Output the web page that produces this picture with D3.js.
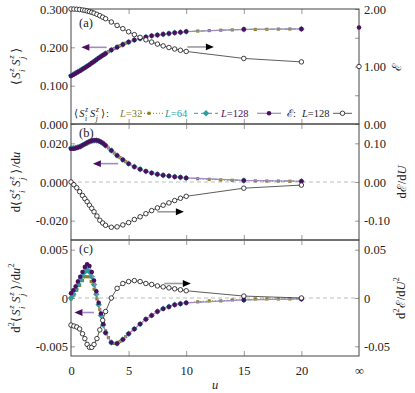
<!DOCTYPE html>
<html>
<head>
<meta charset="utf-8">
<script src="https://cdn.jsdelivr.net/npm/d3@7"></script>
<style>
  body { margin: 0; background: #fff; }
  svg { display: block; }
  svg text { font-family: "Liberation Serif", "Times New Roman", Tinos, "DejaVu Serif", serif; }
</style>
</head>
<body>
<svg id="chart" width="415" height="393"></svg>
<script>
// ---- data ----
const uL128 = [0,0.2,0.4,0.6,0.8,1.0,1.2,1.4,1.6,1.8,2.0,2.2,2.4,2.6,2.8,3.0,3.5,4,4.5,5,5.5,6,6.5,7,7.5,8,8.5,9,9.5,10,15,20];
const uL64 = uL128;
const uL32 = [0,0.25,0.5,0.75,1,1.25,1.5,1.75,2,2.25,2.5,2.75,3,3.25,3.5,3.75,4,4.25,4.5,4.75,5,5.5,6,6.5,7,7.5,8,8.5,9,9.5,10,11,12,13,14,15,16,17,18,19,20];
const uE = [0,0.25,0.5,0.75,1,1.2,1.4,1.6,1.8,2,2.25,2.5,2.75,3,3.5,4,4.5,5,5.5,6,6.5,7,7.5,8,8.5,9,9.5,10,15,20];
const U_INF = 25; // position of the "∞" tick

// <S^z_i S^z_j>
const corr128 = [0.1250,0.1284,0.1319,0.1354,0.1390,0.1428,0.1466,0.1506,0.1548,0.1590,0.1633,0.1676,0.1719,0.1761,0.1802,0.1841,0.1929,0.2005,0.2075,0.2140,0.2190,0.2230,0.2270,0.2300,0.2320,0.2340,0.2360,0.2380,0.2395,0.2410,0.2470,0.2480];
const corr64 = [0.1262,0.1295,0.1329,0.1363,0.1398,0.1434,0.1470,0.1509,0.1550,0.1591,0.1634,0.1677,0.1719,0.1761,0.1802,0.1841,0.1929,0.2005,0.2075,0.2140,0.2190,0.2230,0.2270,0.2300,0.2320,0.2340,0.2360,0.2380,0.2395,0.2410,0.2468,0.2478];
const corr32 = [0.1250,0.1293,0.1336,0.1381,0.1428,0.1476,0.1527,0.1580,0.1633,0.1687,0.1740,0.1791,0.1841,0.1886,0.1929,0.1968,0.2005,0.2040,0.2075,0.2108,0.2140,0.2190,0.2230,0.2270,0.2300,0.2320,0.2340,0.2360,0.2380,0.2395,0.2410,0.2425,0.2437,0.2447,0.2455,0.2462,0.2467,0.2471,0.2475,0.2478,0.2480];
const corrInf = 0.252;

// d<S^z_i S^z_j>/du
const d1_128 = [0.0172,0.0172,0.0174,0.0178,0.0183,0.0190,0.0197,0.0204,0.0210,0.0214,0.0216,0.0216,0.0213,0.0207,0.0199,0.0189,0.0163,0.0137,0.0115,0.0095,0.0079,0.0066,0.0055,0.0047,0.0040,0.0035,0.0031,0.0027,0.0024,0.0021,0.0008,0.0004];
const d1_64 = [0.0176,0.0176,0.0177,0.0180,0.0184,0.0190,0.0196,0.0202,0.0208,0.0212,0.0214,0.0215,0.0212,0.0207,0.0199,0.0189,0.0163,0.0137,0.0115,0.0095,0.0079,0.0066,0.0055,0.0047,0.0040,0.0035,0.0031,0.0027,0.0024,0.0021,0.0008,0.0004];
const d1_32 = [0.0172,0.0172,0.0176,0.0181,0.0189,0.0198,0.0206,0.0212,0.0215,0.0215,0.0210,0.0201,0.0189,0.0176,0.0163,0.0150,0.0137,0.0126,0.0115,0.0105,0.0095,0.0079,0.0066,0.0055,0.0047,0.0040,0.0035,0.0031,0.0027,0.0024,0.0021,0.0017,0.0014,0.0011,0.0009,0.0008,0.0006,0.0005,0.0005,0.0004,0.0004];

// d2<S^z_i S^z_j>/du2
const d2_128 = [0.0005,0.0008,0.0012,0.0017,0.0022,0.0027,0.0032,0.0035,0.0033,0.0027,0.0018,0.0007,-0.0005,-0.0016,-0.0027,-0.0036,-0.0046,-0.0047,-0.0043,-0.0037,-0.0032,-0.0027,-0.0022,-0.0018,-0.0014,-0.0011,-0.0009,-0.0007,-0.0006,-0.0005,-0.0002,-0.0001];
const d2_64 = [0.0000,0.0004,0.0009,0.0014,0.0019,0.0023,0.0027,0.0029,0.0027,0.0022,0.0014,0.0004,-0.0007,-0.0018,-0.0028,-0.0036,-0.0046,-0.0047,-0.0043,-0.0037,-0.0032,-0.0027,-0.0022,-0.0018,-0.0014,-0.0011,-0.0009,-0.0007,-0.0006,-0.0005,-0.0002,-0.0001];
const d2_32 = [-0.0001,0.0003,0.0008,0.0013,0.0018,0.0022,0.0022,0.0017,0.0009,-0.0001,-0.0012,-0.0024,-0.0034,-0.0041,-0.0046,-0.0047,-0.0047,-0.0045,-0.0043,-0.0040,-0.0037,-0.0032,-0.0027,-0.0022,-0.0018,-0.0014,-0.0011,-0.0009,-0.0007,-0.0006,-0.0005,-0.0004,-0.0003,-0.0003,-0.0002,-0.0002,-0.0001,-0.0001,-0.0001,-0.0001,-0.0001];

// energy E (L=128) and its derivatives
const energy = [2.000,1.999,1.996,1.991,1.983,1.976,1.966,1.955,1.942,1.928,1.907,1.884,1.858,1.831,1.774,1.715,1.658,1.604,1.554,1.507,1.464,1.425,1.390,1.358,1.330,1.304,1.282,1.262,1.140,1.080];
const energyInf = 1.00;
const dEnergy = [0,-0.007,-0.015,-0.025,-0.035,-0.043,-0.051,-0.060,-0.068,-0.077,-0.088,-0.099,-0.106,-0.112,-0.117,-0.116,-0.111,-0.105,-0.097,-0.090,-0.082,-0.074,-0.067,-0.060,-0.054,-0.048,-0.042,-0.037,-0.016,-0.008];
const d2Energy = [-0.028,-0.029,-0.030,-0.032,-0.037,-0.042,-0.048,-0.051,-0.051,-0.048,-0.042,-0.033,-0.023,-0.014,0.000,0.010,0.015,0.017,0.018,0.017,0.015,0.014,0.0125,0.0115,0.0105,0.0095,0.0085,0.0075,0.002,0.000];

const xTicks = [0, 5, 10, 15, 20, U_INF];

// ---- styles ----
const C32 = "#8c7e22", C64 = "#2a9fa3", C128 = "#4a0f5f", C128line = "#a48bbf";
const FS = 12.5;
const FONT = "'Liberation Serif', 'Times New Roman', Tinos, 'DejaVu Serif', serif";

const svg = d3.select("#chart");
const x = d3.scaleLinear().domain([0, U_INF]).range([71, 359]);

// small math-text helper: parts = [text, kind, dx (in em)]
function mathText(sel, parts, size) {
  let cur = 0;
  sel.attr("font-family", FONT);
  parts.forEach(([s, kind, dx]) => {
    const off = kind.startsWith("sup") ? -0.46 * size : kind.startsWith("sub") ? 0.4 * size : 0;
    const t = sel.append("tspan").text(s).attr("dy", (off - cur).toFixed(2));
    if (dx) t.attr("dx", (dx * size).toFixed(2));
    if (kind === "i" || kind === "supi" || kind === "subi") t.attr("font-style", "italic");
    if (kind !== "r" && kind !== "i") t.attr("font-size", (size * 0.7).toFixed(1));
    cur = off;
  });
  return sel;
}

// <S^z_i S^z_j>, subscripts stacked under the superscripts
const SS = [["⟨","r"],["S","i",0.12],["z","supi",0.06],["i","subi",-0.3],["S","i",0.3],["z","supi",0.06],["j","subi",-0.3],["⟩","r",0.3]];

const panels = [
  {
    label: "(a)", labelY: 27, top: 9, bottom: 124,
    leftDomain: [0, 0.3], rightDomain: [0, 2],
    leftTicks: [0, 0.1, 0.2, 0.3], leftFmt: d => d.toFixed(3),
    rightTicks: [0, 0.5, 1, 1.5, 2], rightFmt: d => (d % 1 === 0 ? d.toFixed(2) : ""),
    s32: corr32, s64: corr64, s128: corr128, sE: energy,
    inf128: corrInf, infE: energyInf, zero: false,
    leftTitle: SS, rightTitle: [["ℰ","r"]], rightX: 401,
    arrows: [
      { from: 3.1, to: 0.9, v: 0.2, axis: "L", shaft: C128line, head: C128 },
      { from: 10.1, to: 12.4, v: 1.34, axis: "R", shaft: "#9a9a9a", head: "#000" }
    ]
  },
  {
    label: "(b)", labelY: 136.5, top: 124, bottom: 240,
    leftDomain: [-0.03, 0.03], rightDomain: [-0.15, 0.15],
    leftTicks: [-0.02, 0, 0.02], leftFmt: d => d.toFixed(3),
    rightTicks: [-0.1, 0, 0.1], rightFmt: d => d.toFixed(2),
    s32: d1_32, s64: d1_64, s128: d1_128, sE: dEnergy, zero: true,
    leftTitle: [["d","r"]].concat(SS, [["/d","r",0.1],["u","i"]]),
    rightTitle: [["dℰ/d","r"],["U","i"]], rightX: 406,
    arrows: [
      { from: 4.1, to: 1.9, v: 0.0095, axis: "L", shaft: C128line, head: C128 },
      { from: 7.5, to: 9.8, v: -0.077, axis: "R", shaft: "#9a9a9a", head: "#000" }
    ]
  },
  {
    label: "(c)", labelY: 252.5, top: 240, bottom: 356,
    leftDomain: [-0.006, 0.006], rightDomain: [-0.06, 0.06],
    leftTicks: [-0.005, 0, 0.005], leftFmt: d => (d === 0 ? "0" : d.toFixed(3)),
    rightTicks: [-0.05, 0, 0.05], rightFmt: d => (d === 0 ? "0" : d.toFixed(2)),
    s32: d2_32, s64: d2_64, s128: d2_128, sE: d2Energy, zero: true,
    leftTitle: [["d","r"],["2","supr"],["⟨","r"]].concat(SS.slice(1), [["/d","r",0.1],["u","i"],["2","supr"]]),
    rightTitle: [["d","r"],["2","supr"],["ℰ/d","r"],["U","i"],["2","supr"]], rightX: 405,
    arrows: [
      { from: 2.0, to: 0.3, v: -0.0015, axis: "L", shaft: C128line, head: C128 },
      { from: 8.1, to: 10.4, v: 0.015, axis: "R", shaft: "#9a9a9a", head: "#000" }
    ]
  }
];

function styleAxis(g) {
  g.attr("font-family", FONT);
  g.select(".domain").remove();
  g.selectAll(".tick line").attr("stroke", "#999").attr("stroke-width", 1);
  g.selectAll("text").attr("font-family", FONT).attr("font-size", FS).attr("fill", "#222");
}

const diamond = h => `M0,${-h}L${h},0L0,${h}L${-h},0Z`;

function drawMarkers(g, pts, kind) {
  const sel = g.append("g").selectAll("path").data(pts).join("path")
    .attr("transform", d => `translate(${d[0]},${d[1]})`);
  if (kind === "sq") sel.attr("d", d3.symbol(d3.symbolSquare, 10)()).attr("fill", C32);
  if (kind === "dm") sel.attr("d", diamond(3.2)).attr("fill", C64);
  if (kind === "ci") sel.attr("d", d3.symbol(d3.symbolCircle, 16)()).attr("fill", C128);
  if (kind === "oc") sel.attr("d", d3.symbol(d3.symbolCircle, 16)()).attr("fill", "#fff")
    .attr("stroke", "#111").attr("stroke-width", 0.8);
}

function drawSeries(g, us, vs, y, st) {
  const pts = us.map((u, i) => [x(u), y(vs[i])]);
  g.append("path").datum(pts).attr("d", d3.line())
    .attr("fill", "none").attr("stroke", st.line).attr("stroke-width", st.lw)
    .attr("stroke-dasharray", st.dash || null);
  drawMarkers(g, pts, st.marker);
}

function drawArrow(g, a, yL, yR) {
  const y = (a.axis === "L" ? yL : yR)(a.v);
  const x0 = x(a.from), x1 = x(a.to);
  const dir = Math.sign(x1 - x0), hl = 8, hw = 3.4;
  g.append("line").attr("x1", x0).attr("x2", x1 - dir * hl).attr("y1", y).attr("y2", y)
    .attr("stroke", a.shaft).attr("stroke-width", 1.6);
  g.append("path")
    .attr("d", `M${x1},${y}L${x1 - dir * hl},${y - hw}L${x1 - dir * hl},${y + hw}Z`)
    .attr("fill", a.head);
}

panels.forEach(p => {
  const yL = d3.scaleLinear().domain(p.leftDomain).range([p.bottom, p.top]);
  const yR = d3.scaleLinear().domain(p.rightDomain).range([p.bottom, p.top]);
  const g = svg.append("g");

  if (p.zero) {
    g.append("line").attr("x1", x(0)).attr("x2", x(U_INF)).attr("y1", yL(0)).attr("y2", yL(0))
      .attr("stroke", "#bdbdbd").attr("stroke-width", 1).attr("stroke-dasharray", "4,3");
  }

  // inward x ticks on top and bottom edges
  g.append("g").attr("transform", `translate(0,${p.top})`)
    .call(d3.axisTop(x).tickValues([5, 10, 15, 20]).tickSize(-5).tickFormat(""))
    .call(styleAxis);
  g.append("g").attr("transform", `translate(0,${p.bottom})`)
    .call(d3.axisBottom(x).tickValues([5, 10, 15, 20]).tickSize(-5).tickFormat(""))
    .call(styleAxis);

  g.append("g").attr("transform", `translate(${x(0)},0)`)
    .call(d3.axisLeft(yL).tickValues(p.leftTicks).tickSize(-4).tickPadding(3).tickFormat(p.leftFmt))
    .call(styleAxis);
  g.append("g").attr("transform", `translate(${x(U_INF)},0)`)
    .call(d3.axisRight(yR).tickValues(p.rightTicks).tickSize(-4).tickPadding(5).tickFormat(p.rightFmt))
    .call(styleAxis);

  // frame
  g.append("rect").attr("x", x(0)).attr("y", p.top)
    .attr("width", x(U_INF) - x(0)).attr("height", p.bottom - p.top)
    .attr("fill", "none").attr("stroke", "#444").attr("stroke-width", 1);

  // panel label
  g.append("text").attr("x", 79).attr("y", p.labelY).attr("font-family", FONT)
    .attr("font-size", FS).attr("fill", "#222").text(p.label);

  // data
  drawSeries(g, uL32, p.s32, yL, { line: C32, lw: 1, dash: "1,2", marker: "sq" });
  drawSeries(g, uL64, p.s64, yL, { line: C64, lw: 1, dash: "4,3", marker: "dm" });
  drawSeries(g, uL128, p.s128, yL, { line: C128line, lw: 1.2, marker: "ci" });
  drawSeries(g, uE, p.sE, yR, { line: "#333", lw: 0.8, marker: "oc" });
  if (p.inf128 !== undefined) drawMarkers(g, [[x(U_INF), yL(p.inf128)]], "ci");
  if (p.infE !== undefined) drawMarkers(g, [[x(U_INF), yR(p.infE)]], "oc");

  p.arrows.forEach(a => drawArrow(g, a, yL, yR));

  // axis titles
  const yc = (p.top + p.bottom) / 2;
  mathText(svg.append("text").attr("transform", `translate(19.5,${yc}) rotate(-90)`)
    .attr("text-anchor", "middle").attr("font-size", FS).attr("fill", "#222"), p.leftTitle, FS);
  mathText(svg.append("text").attr("transform", `translate(${p.rightX},${yc}) rotate(-90)`)
    .attr("text-anchor", "middle").attr("font-size", FS).attr("fill", "#222"), p.rightTitle, FS);
});

// bottom x axis labels
svg.append("g").attr("transform", "translate(0,356)")
  .call(d3.axisBottom(x).tickValues(xTicks).tickSize(0).tickPadding(10)
    .tickFormat(d => (d === U_INF ? "∞" : d)))
  .call(styleAxis);
svg.append("text").attr("x", x(12.5)).attr("y", 389).attr("text-anchor", "middle")
  .attr("font-family", FONT).attr("font-size", FS).attr("font-style", "italic").attr("fill", "#222").text("u");

// legend inside panel (a)
const LF = 10.5, ly = 116.8, lmid = 113.3;
const leg = svg.append("g").attr("font-size", LF);
mathText(leg.append("text").attr("x", 74).attr("y", ly).attr("fill", "#222"), SS.concat([[":","r",0.1]]), LF);
function legLabel(xp, color, txt) {
  mathText(leg.append("text").attr("x", xp).attr("y", ly).attr("fill", color), [["L","i"],["=" + txt,"r"]], LF);
}
function legLine(x0, x1, st) {
  leg.append("line").attr("x1", x0).attr("x2", x1).attr("y1", lmid).attr("y2", lmid)
    .attr("stroke", st.line).attr("stroke-width", st.lw).attr("stroke-dasharray", st.dash || null);
  drawMarkers(leg, [[(x0 + x1) / 2, lmid]], st.marker);
}
legLabel(120, C32, "32");
legLine(135, 163, { line: C32, lw: 1, dash: "1,2", marker: "sq" });
legLabel(165, C64, "64");
legLine(194, 218, { line: C64, lw: 1, dash: "4,3", marker: "dm" });
legLabel(221, C128, "128");
legLine(257, 281, { line: C128line, lw: 1.2, marker: "ci" });
mathText(leg.append("text").attr("x", 287).attr("y", ly).attr("fill", "#222"), [["ℰ:","r"]], LF);
legLabel(302, "#222", "128");
legLine(333, 352, { line: "#333", lw: 0.8, marker: "oc" });
</script>
</body>
</html>
